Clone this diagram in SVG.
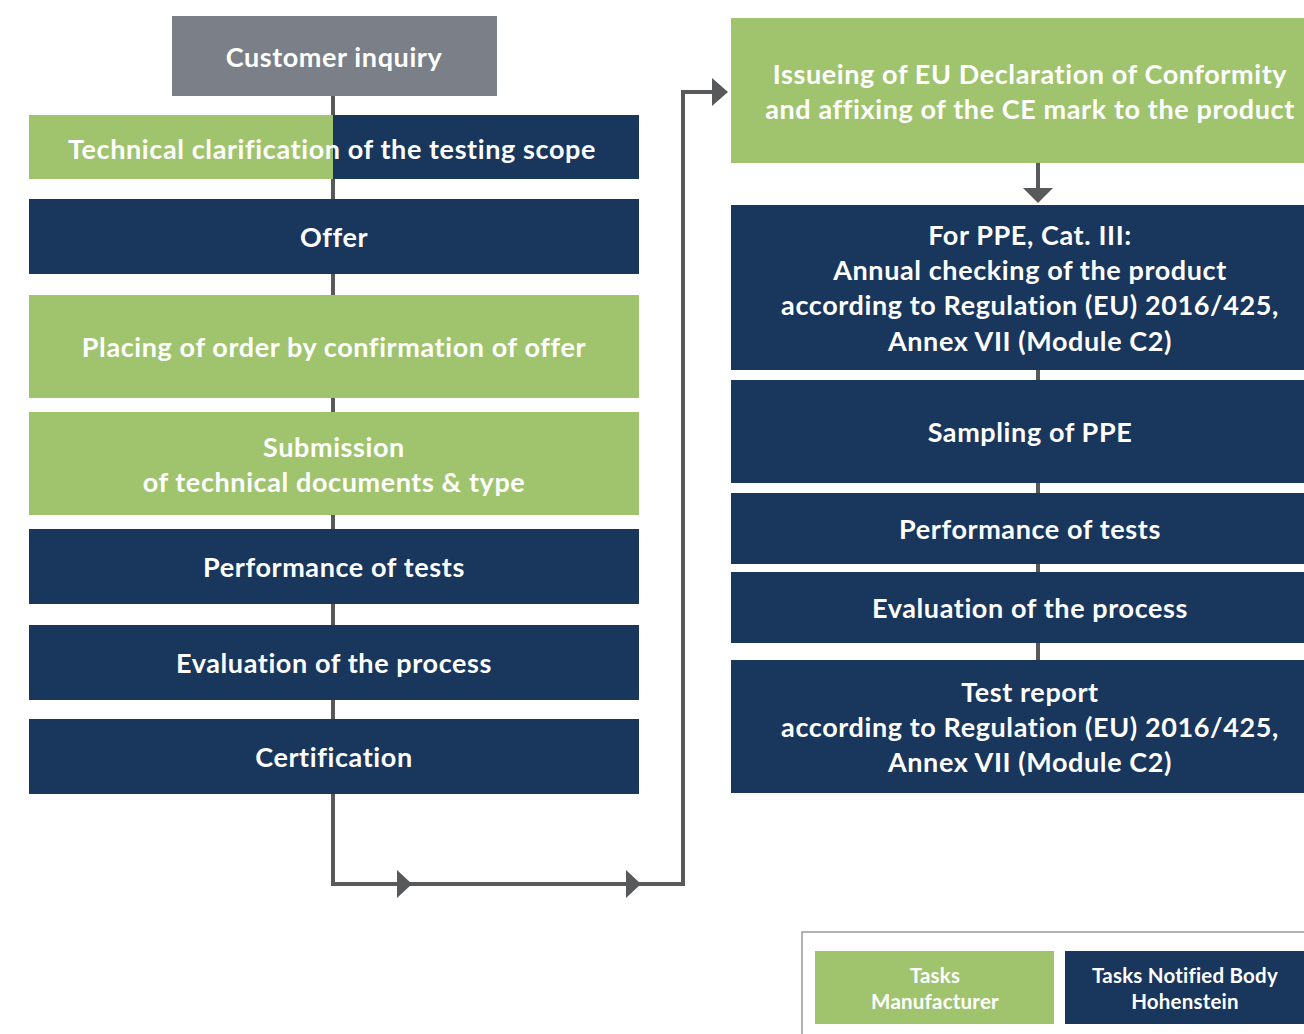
<svg xmlns="http://www.w3.org/2000/svg" width="1304" height="1034" viewBox="0 0 1304 1034">
<style>
.g{fill:#A0C46E}
.n{fill:#19365C}
.gr{fill:#7B7F87}
.t{font-family:Lato,"Open Sans","Liberation Sans",sans-serif;font-weight:700;font-size:27px;letter-spacing:0.6px;fill:#fff;text-anchor:middle}
.s{font-size:20.5px;letter-spacing:0.2px}
.c{stroke:#58595B;stroke-width:4;fill:none}
.ah{fill:#58595B}
</style>
<rect width="1304" height="1034" fill="#fff"/>
<g id="connectors">
<line class="c" x1="333" y1="96" x2="333" y2="115"/>
<line class="c" x1="333" y1="179" x2="333" y2="199"/>
<line class="c" x1="333" y1="274" x2="333" y2="295"/>
<line class="c" x1="333" y1="398" x2="333" y2="412"/>
<line class="c" x1="333" y1="515" x2="333" y2="529"/>
<line class="c" x1="333" y1="604" x2="333" y2="625"/>
<line class="c" x1="333" y1="700" x2="333" y2="719"/>
<polyline class="c" points="333,794 333,884 683,884 683,92 714,92"/>
<polygon class="ah" points="397,870 412,884 397,898"/>
<polygon class="ah" points="626,870 641,884 626,898"/>
<polygon class="ah" points="712,78 728,92 712,106"/>
<line class="c" x1="1038" y1="163" x2="1038" y2="190"/>
<polygon class="ah" points="1023,188 1053,188 1038,203"/>
<line class="c" x1="1038" y1="370" x2="1038" y2="380"/>
<line class="c" x1="1038" y1="483" x2="1038" y2="493"/>
<line class="c" x1="1038" y1="564" x2="1038" y2="572"/>
<line class="c" x1="1038" y1="643" x2="1038" y2="660"/>
</g>
<g id="customer-inquiry">
<rect class="gr" x="172" y="16" width="325" height="80"/>
<text class="t" x="334" y="67">Customer inquiry</text>
</g>
<g id="technical-clarification">
<rect class="g" x="29" y="115" width="304" height="64"/>
<rect class="n" x="333" y="115" width="306" height="64"/>
<text class="t" x="332" y="159">Technical clarification of the testing scope</text>
</g>
<g id="offer">
<rect class="n" x="29" y="199" width="610" height="75"/>
<text class="t" x="334" y="247">Offer</text>
</g>
<g id="placing-order">
<rect class="g" x="29" y="295" width="610" height="103"/>
<text class="t" x="334" y="357">Placing of order by confirmation of offer</text>
</g>
<g id="submission">
<rect class="g" x="29" y="412" width="610" height="103"/>
<text class="t" x="334" y="457">Submission</text>
<text class="t" x="334" y="492">of technical documents &amp; type</text>
</g>
<g id="performance-left">
<rect class="n" x="29" y="529" width="610" height="75"/>
<text class="t" x="334" y="577">Performance of tests</text>
</g>
<g id="evaluation-left">
<rect class="n" x="29" y="625" width="610" height="75"/>
<text class="t" x="334" y="673">Evaluation of the process</text>
</g>
<g id="certification">
<rect class="n" x="29" y="719" width="610" height="75"/>
<text class="t" x="334" y="767">Certification</text>
</g>
<g id="declaration">
<rect class="g" x="731" y="18" width="573" height="145"/>
<text class="t" x="1030" y="84">Issueing of EU Declaration of Conformity</text>
<text class="t" x="1030" y="119">and affixing of the CE mark to the product</text>
</g>
<g id="ppe-annual">
<rect class="n" x="731" y="205" width="573" height="165"/>
<text class="t" x="1030" y="245">For PPE, Cat. III:</text>
<text class="t" x="1030" y="280">Annual checking of the product</text>
<text class="t" x="1030" y="315">according to Regulation (EU) 2016/425,</text>
<text class="t" x="1030" y="351">Annex VII (Module C2)</text>
</g>
<g id="sampling">
<rect class="n" x="731" y="380" width="573" height="103"/>
<text class="t" x="1030" y="442">Sampling of PPE</text>
</g>
<g id="performance-right">
<rect class="n" x="731" y="493" width="573" height="71"/>
<text class="t" x="1030" y="539">Performance of tests</text>
</g>
<g id="evaluation-right">
<rect class="n" x="731" y="572" width="573" height="71"/>
<text class="t" x="1030" y="618">Evaluation of the process</text>
</g>
<g id="test-report">
<rect class="n" x="731" y="660" width="573" height="133"/>
<text class="t" x="1030" y="702">Test report</text>
<text class="t" x="1030" y="737">according to Regulation (EU) 2016/425,</text>
<text class="t" x="1030" y="772">Annex VII (Module C2)</text>
</g>
<g id="legend">
<rect x="802" y="932" width="510" height="110" fill="#fff" stroke="#9A9A9A" stroke-width="1.5"/>
<rect class="g" x="815" y="951" width="239" height="73"/>
<text class="t s" x="935" y="983">Tasks</text>
<text class="t s" x="935" y="1009">Manufacturer</text>
<rect class="n" x="1065" y="951" width="239" height="73"/>
<text class="t s" x="1185" y="983">Tasks Notified Body</text>
<text class="t s" x="1185" y="1009">Hohenstein</text>
</g>
</svg>
